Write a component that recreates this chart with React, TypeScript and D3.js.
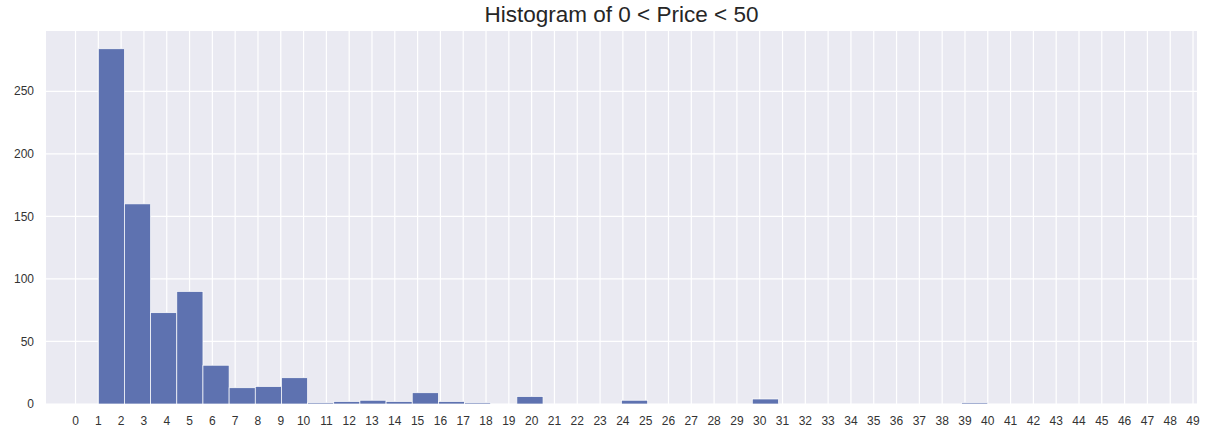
import React, { useEffect, useRef } from 'react';
import * as d3 from 'd3';

// histogram counts per bin (40 bins between minPrice and maxPrice)
const counts = [
  284, 160, 73, 90, 31, 13, 14, 21, 1, 2,
  3, 2, 9, 2, 1, 0, 6, 0, 0, 0,
  3, 0, 0, 0, 0, 4, 0, 0, 0, 0,
  0, 0, 0, 1, 0, 0, 0, 0, 0, 0,
];
const minPrice = 1.0;
const maxPrice = 46.88;
const xTicks = d3.range(0, 50);
const yTicks = [0, 50, 100, 150, 200, 250];
const title = 'Histogram of 0 < Price < 50';

const App: React.FC = () => {
  const svgRef = useRef<SVGSVGElement>(null);

  useEffect(() => {
    if (!svgRef.current) return;
    const svg = d3.select(svgRef.current);
    svg.selectAll('*').remove();

    const width = 1209;
    const height = 442;
    const margin = { top: 31, right: 12, bottom: 38, left: 46 };
    const font = 'Arial, "Liberation Sans", Helvetica, sans-serif';

    const binWidth = (maxPrice - minPrice) / counts.length;
    const bins = counts.map((c, i) => ({
      x0: minPrice + i * binWidth,
      x1: minPrice + (i + 1) * binWidth,
      count: c,
    }));

    const pad = (maxPrice - minPrice) * 0.05;
    const x = d3.scaleLinear()
      .domain([minPrice - pad, maxPrice + pad])
      .range([margin.left, width - margin.right]);
    const y = d3.scaleLinear()
      .domain([0, (d3.max(counts) || 1) * 1.05])
      .range([height - margin.bottom, margin.top]);

    svg.attr('width', width).attr('height', height);

    // plot background
    svg.append('rect')
      .attr('x', margin.left)
      .attr('y', margin.top)
      .attr('width', width - margin.left - margin.right)
      .attr('height', height - margin.top - margin.bottom)
      .attr('fill', '#eaeaf2');

    const grid = svg.append('g').attr('stroke', '#ffffff').attr('stroke-width', 1.2);
    grid.selectAll('line.v')
      .data(xTicks)
      .join('line')
      .attr('class', 'v')
      .attr('x1', d => x(d)).attr('x2', d => x(d))
      .attr('y1', margin.top).attr('y2', height - margin.bottom);
    grid.selectAll('line.h')
      .data(yTicks)
      .join('line')
      .attr('class', 'h')
      .attr('x1', margin.left).attr('x2', width - margin.right)
      .attr('y1', d => y(d)).attr('y2', d => y(d));

    // bars
    svg.append('g')
      .selectAll('rect')
      .data(bins)
      .join('rect')
      .attr('x', d => x(d.x0))
      .attr('y', d => y(d.count))
      .attr('width', d => x(d.x1) - x(d.x0))
      .attr('height', d => y(0) - y(d.count))
      .attr('fill', '#5e72b0')
      .attr('stroke', '#ffffff')
      .attr('stroke-width', 0.7);

    // x tick labels
    svg.append('g')
      .selectAll('text')
      .data(xTicks)
      .join('text')
      .attr('x', d => x(d))
      .attr('y', 425)
      .attr('text-anchor', 'middle')
      .attr('font-family', font)
      .attr('font-size', 12)
      .attr('fill', '#333')
      .text(d => d);

    // y tick labels
    svg.append('g')
      .selectAll('text')
      .data(yTicks)
      .join('text')
      .attr('x', 34)
      .attr('y', d => y(d))
      .attr('dy', '0.35em')
      .attr('text-anchor', 'end')
      .attr('font-family', font)
      .attr('font-size', 12)
      .attr('fill', '#333')
      .text(d => d);

    svg.append('text')
      .attr('x', (margin.left + width - margin.right) / 2)
      .attr('y', 22)
      .attr('text-anchor', 'middle')
      .attr('font-family', font)
      .attr('font-size', 22.5)
      .attr('fill', '#262626')
      .text(title);
  }, []);

  return (
    <svg ref={svgRef} style={{ position: 'absolute', left: 0, top: 0, background: '#fff' }} />
  );
};

export default App;
